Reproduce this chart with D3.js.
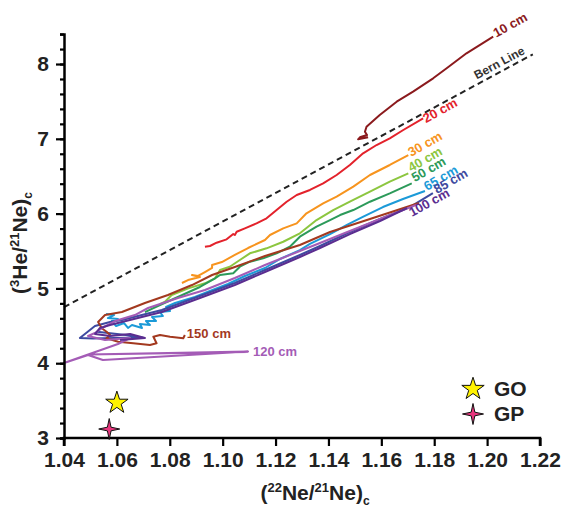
<!DOCTYPE html>
<meta charset="utf-8">
<style>
body { margin: 0; background: #fff; }
svg text { font-family: "Liberation Sans", Arial, Helvetica, sans-serif; font-weight: bold; }
</style>
<body>
<svg width="561" height="510"></svg>
<script src="https://d3js.org/d3.v7.min.js"></script>
<script>
// x = (22Ne/21Ne)c, y = (3He/21Ne)c
var cm10 = [[1.155,7.02],[1.1512,6.993],[1.1519,7.02],[1.1546,7.051],[1.1538,7.095],[1.1544,7.162],[1.1594,7.318],[1.1658,7.496],[1.172,7.63],[1.1796,7.809],[1.1847,7.943],[1.1922,8.143],[1.2023,8.365]];
var cm20 = [[1.0933,5.557],[1.0952,5.567],[1.0977,5.611],[1.1015,5.656],[1.104,5.727],[1.1046,5.714],[1.1053,5.758],[1.1084,5.803],[1.1128,5.87],[1.1166,5.937],[1.1204,6.048],[1.1242,6.159],[1.128,6.249],[1.133,6.316],[1.138,6.405],[1.1431,6.516],[1.1481,6.65],[1.1531,6.806],[1.1582,6.917],[1.1632,7.007],[1.1683,7.118],[1.1758,7.274]];
var cm30 = [[1.0846,5.072],[1.0869,5.112],[1.0914,5.152],[1.0884,5.179],[1.0907,5.166],[1.0933,5.219],[1.096,5.273],[1.096,5.313],[1.0997,5.353],[1.1046,5.447],[1.1096,5.54],[1.116,5.647],[1.1179,5.714],[1.1229,5.803],[1.128,5.87],[1.1317,6.004],[1.138,6.138],[1.1431,6.226],[1.1494,6.36],[1.1557,6.516],[1.1632,6.65],[1.1702,6.783]];
var cm40 = [[1.0763,4.791],[1.0782,4.822],[1.0807,4.912],[1.087,5.001],[1.0933,5.068],[1.0971,5.135],[1.099,5.246],[1.1027,5.29],[1.1065,5.38],[1.1103,5.469],[1.1166,5.536],[1.1229,5.624],[1.1292,5.737],[1.1355,5.914],[1.1418,6.048],[1.1481,6.159],[1.1557,6.293],[1.1632,6.427],[1.1702,6.539]];
var cm50 = [[1.0706,4.684],[1.0763,4.778],[1.0839,4.898],[1.0914,5.019],[1.0971,5.135],[1.099,5.179],[1.104,5.202],[1.1065,5.29],[1.1103,5.357],[1.1153,5.402],[1.1204,5.469],[1.1254,5.557],[1.1292,5.691],[1.1355,5.825],[1.1406,5.914],[1.1444,5.981],[1.1494,6.048],[1.1557,6.159],[1.1632,6.271],[1.1715,6.405]];
var cm65 = [[1.0559,4.658],[1.0589,4.644],[1.0566,4.604],[1.0604,4.591],[1.0581,4.564],[1.0597,4.497],[1.0627,4.537],[1.0642,4.471],[1.0657,4.511],[1.0695,4.471],[1.0687,4.524],[1.0725,4.511],[1.071,4.564],[1.0748,4.564],[1.0733,4.618],[1.0774,4.631],[1.0763,4.684],[1.0801,4.698],[1.0786,4.751],[1.082,4.805],[1.0895,4.885],[1.0952,4.965],[1.102,5.059],[1.1084,5.166],[1.116,5.273],[1.1217,5.393],[1.1292,5.513],[1.133,5.594],[1.1406,5.727],[1.147,5.848],[1.153,5.955],[1.1606,6.088],[1.1682,6.195],[1.1765,6.302]];
var cm85 = [[1.0525,4.421],[1.0634,4.377],[1.0699,4.341],[1.0634,4.341],[1.051,4.33],[1.046,4.337],[1.0498,4.444],[1.0517,4.497],[1.0574,4.551],[1.0619,4.578],[1.077,4.711],[1.0914,4.898],[1.1046,5.072],[1.116,5.246],[1.1292,5.447],[1.1368,5.567],[1.1481,5.754],[1.1595,5.928],[1.1708,6.088],[1.1795,6.275]];
var cm100 = [[1.0612,4.31],[1.0706,4.337],[1.065,4.39],[1.0574,4.364],[1.0517,4.39],[1.0536,4.471],[1.0574,4.511],[1.0619,4.551],[1.077,4.684],[1.0914,4.872],[1.1046,5.045],[1.116,5.219],[1.1292,5.42],[1.1368,5.54],[1.1481,5.727],[1.1595,5.901],[1.1697,6.075]];
var cm120 = [[1.1731,6.115],[1.1595,5.928],[1.1481,5.767],[1.1368,5.607],[1.1292,5.5],[1.116,5.313],[1.1046,5.139],[1.0933,4.979],[1.0831,4.872],[1.0718,4.738],[1.0668,4.644],[1.0593,4.564],[1.0551,4.484],[1.0517,4.404],[1.0491,4.364],[1.0555,4.31],[1.065,4.337],[1.0604,4.257],[1.04,4.003],[1.0491,4.11],[1.0547,4.043],[1.1096,4.156],[1.0491,4.116],[1.1096,4.15]];
var cm150 = [[1.1742,6.142],[1.1557,5.928],[1.1406,5.754],[1.1292,5.58],[1.116,5.433],[1.1046,5.286],[1.096,5.179],[1.0884,5.045],[1.0793,4.912],[1.0706,4.805],[1.0619,4.684],[1.0555,4.644],[1.0529,4.551],[1.0543,4.467],[1.0561,4.421],[1.0574,4.377],[1.0561,4.333],[1.0605,4.287],[1.0662,4.266],[1.0725,4.243],[1.075,4.266],[1.0738,4.354],[1.0763,4.377],[1.0801,4.354],[1.0851,4.333],[1.0857,4.377]];
var bernLine = [[1.04,4.75],[1.2173,8.13]];
var starGO = [1.06,3.47];
var starGP = [1.0571,3.12];
var xTicks = [1.04,1.06,1.08,1.10,1.12,1.14,1.16,1.18,1.20,1.22];
var yTicks = [3,4,5,6,7,8];

var svg = d3.select("svg");
var x = d3.scaleLinear().domain([1.04,1.22]).range([64,540]);
var y = d3.scaleLinear().domain([3,8.4]).range([438,34.1]);

var series = [
  {name:"10 cm", d:cm10, c:"#8b1a1d", dx:3, dy:1, rot:-29},
  {name:"20 cm", d:cm20, c:"#e3222b", dx:3, dy:5, rot:-29},
  {name:"30 cm", d:cm30, c:"#f7941e", dx:3, dy:2, rot:-30},
  {name:"40 cm", d:cm40, c:"#8cc63f", dx:3, dy:-1, rot:-30},
  {name:"50 cm", d:cm50, c:"#2c9a5a", dx:3, dy:-1, rot:-30},
  {name:"65 cm", d:cm65, c:"#1b9ad8", dx:2, dy:0, rot:-30},
  {name:"85 cm", d:cm85, c:"#3e4aa0", dx:4, dy:1, rot:-30},
  {name:"150 cm", d:cm150, c:"#a3391f", dx:2, dy:3, rot:0},
  {name:"120 cm", d:cm120, c:"#a45cb6", dx:5, dy:4, rot:0},
  {name:"100 cm", d:cm100, c:"#5b2d90", dx:5, dy:9, rot:-29}
];

var line = d3.line().x(function(d) { return x(d[0]); }).y(function(d) { return y(d[1]); });

// Bern line
svg.append("path")
    .attr("d", line(bernLine))
    .attr("fill", "none")
    .attr("stroke", "#222")
    .attr("stroke-width", 2)
    .attr("stroke-dasharray", "6,4");

var bx = 1.1961, by = 4.75 + (8.13 - 4.75) * (bx - 1.04) / (1.2173 - 1.04);
svg.append("text")
    .attr("transform", "translate(" + x(bx) + "," + (y(by) - 5) + ") rotate(-28.3)")
    .attr("font-size", 12)
    .attr("fill", "#333")
    .text("Bern Line");

series.forEach(function(s) {
  svg.append("path")
      .attr("d", line(s.d))
      .attr("fill", "none")
      .attr("stroke", s.c)
      .attr("stroke-width", 2)
      .attr("stroke-linejoin", "round");
});

series.forEach(function(s) {
  var last = s.d[s.d.length - 1];
  svg.append("text")
      .attr("transform", "translate(" + (x(last[0]) + s.dx) + "," + (y(last[1]) + s.dy) + ") rotate(" + s.rot + ")")
      .attr("font-size", 13)
      .attr("fill", s.c)
      .text(s.name);
});

// axes
var gx = svg.append("g")
    .attr("transform", "translate(0," + y(3) + ")")
    .call(d3.axisBottom(x).tickValues(xTicks).tickSize(8).tickPadding(6).tickFormat(d3.format(".2f")));
var gy = svg.append("g")
    .attr("transform", "translate(" + x(1.04) + ",0)")
    .call(d3.axisLeft(y).tickValues(d3.range(3, 8.41, 0.2)).tickSize(4).tickFormat(""));
gy.append("g").call(d3.axisLeft(y).tickValues(yTicks).tickSize(8).tickPadding(7).tickFormat(d3.format("d")));

svg.selectAll(".domain").attr("stroke", "#000").attr("stroke-width", 2.5);
svg.selectAll(".tick line").attr("stroke", "#000").attr("stroke-width", 2.2);
gy.selectAll(".domain").filter(function(d, i) { return i > 0; }).remove();
svg.selectAll(".tick text").attr("font-size", 21).attr("fill", "#222")
    .attr("font-family", "'Liberation Sans', Arial, sans-serif").attr("font-weight", "bold");
gx.selectAll(".domain").attr("d", "M" + x(1.04) + ",8V0H" + x(1.22) + "V8");

// stars
function fourStar(r, ri) {
  var p = [];
  for (var i = 0; i < 8; i++) {
    var a = i * Math.PI / 4 - Math.PI / 2, rr = i % 2 ? ri : r;
    p.push([rr * Math.cos(a), rr * Math.sin(a)]);
  }
  return "M" + p.join("L") + "Z";
}
var star5 = d3.symbol().type(d3.symbolStar).size(155);

function drawGO(px, py) {
  svg.append("path").attr("d", star5()).attr("transform", "translate(" + px + "," + py + ")")
      .attr("fill", "#fff200").attr("stroke", "#111").attr("stroke-width", 1);
}
function drawGP(px, py) {
  svg.append("path").attr("d", fourStar(10.5, 2.6)).attr("transform", "translate(" + px + "," + py + ")")
      .attr("fill", "#e8357d").attr("stroke", "#111").attr("stroke-width", 1);
}
drawGO(x(starGO[0]), y(starGO[1]));
drawGP(x(starGP[0]), y(starGP[1]));

// legend
drawGO(473, 389);
drawGP(473, 414);
svg.append("text").attr("x", 494).attr("y", 396).attr("font-size", 21).attr("fill", "#222").text("GO");
svg.append("text").attr("x", 494).attr("y", 421).attr("font-size", 21).attr("fill", "#222").text("GP");

// axis titles
var xt = svg.append("text").attr("x", 315).attr("y", 500).attr("text-anchor", "middle").attr("font-size", 21).attr("fill", "#222");
xt.append("tspan").text("(");
xt.append("tspan").attr("font-size", 13).attr("dy", -8).text("22");
xt.append("tspan").attr("dy", 8).text("Ne/");
xt.append("tspan").attr("font-size", 13).attr("dy", -8).text("21");
xt.append("tspan").attr("dy", 8).text("Ne)");
xt.append("tspan").attr("font-size", 12).attr("dy", 5).text("c");

var yt = svg.append("text").attr("transform", "translate(27,243) rotate(-90)").attr("text-anchor", "middle").attr("font-size", 21).attr("fill", "#222");
yt.append("tspan").text("(");
yt.append("tspan").attr("font-size", 13).attr("dy", -8).text("3");
yt.append("tspan").attr("dy", 8).text("He/");
yt.append("tspan").attr("font-size", 13).attr("dy", -8).text("21");
yt.append("tspan").attr("dy", 8).text("Ne)");
yt.append("tspan").attr("font-size", 12).attr("dy", 5).text("c");
</script>
</body>
